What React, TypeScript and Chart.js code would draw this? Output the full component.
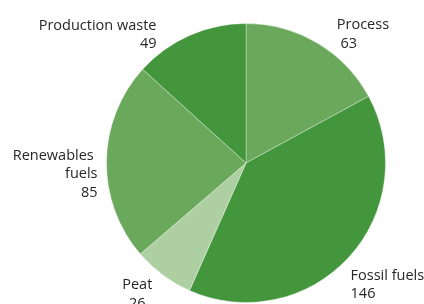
import React, { useEffect, useRef } from "react";
import { Chart, registerables } from "chart.js";

Chart.register(...registerables);

const categories = ["Process", "Fossil fuels", "Peat", "Renewables fuels", "Production waste"];
const values = [63, 146, 26, 85, 49];
const labelLines = [["Process", " 63"], ["Fossil fuels", "146"], ["Peat", "26"], ["Renewables ", "fuels", "85"], ["Production waste", "49"]];
const colors = ["#6aa85b", "#44963d", "#aecfa2", "#6aa85b", "#44963d"];

// label placement relative to slice outer midpoint: [dx, dy(first baseline), align]
const labelPlacement: [number, number, CanvasTextAlign][] = [
  [19.5, -13.6, "left"],
  [2, 22.4, "left"],
  [-25.6, 14, "center"],
  [-9, -1.3, "right"],
  [-33, -5.7, "right"],
];
const LINE_H = 18.5;

const labelPlugin = {
  id: "outerLabels",
  afterDatasetsDraw(chart: any) {
    const ctx = chart.ctx;
    const meta = chart.getDatasetMeta(0);
    ctx.save();
    ctx.font = '14.5px "Open Sans", sans-serif';
    ctx.fillStyle = "#262626";
    ctx.textBaseline = "alphabetic";
    meta.data.forEach((arc: any, i: number) => {
      const { x, y, startAngle, endAngle, outerRadius } = arc.getProps(
        ["x", "y", "startAngle", "endAngle", "outerRadius"],
        true
      );
      const mid = (startAngle + endAngle) / 2;
      const ax = x + Math.cos(mid) * outerRadius;
      const ay = y + Math.sin(mid) * outerRadius;
      const [dx, dy, align] = labelPlacement[i];
      ctx.textAlign = align;
      labelLines[i].forEach((line: string, j: number) => {
        ctx.fillText(line, ax + dx, ay + dy + j * LINE_H);
      });
    });
    ctx.restore();
  },
};

export default function App() {
  const ref = useRef<HTMLCanvasElement>(null);
  useEffect(() => {
    if (!ref.current) return;
    const chart = new Chart(ref.current, {
      type: "pie",
      data: {
        labels: categories,
        datasets: [
          {
            data: values,
            backgroundColor: colors,
            borderColor: "rgba(255,255,255,0.35)",
            borderWidth: 1,
          },
        ],
      },
      options: {
        responsive: false,
        maintainAspectRatio: false,
        animation: false,
        layout: { padding: { left: 106, right: 38, top: 23, bottom: 1 } },
        plugins: {
          legend: { display: false },
          tooltip: { enabled: false },
        },
      },
      plugins: [labelPlugin],
    });
    return () => chart.destroy();
  }, []);
  return (
    <div style={{ position: "fixed", left: 0, top: 0, width: 424, height: 304, background: "#fff" }}>
      <canvas ref={ref} width={424} height={304} style={{ display: "block" }} />
    </div>
  );
}
